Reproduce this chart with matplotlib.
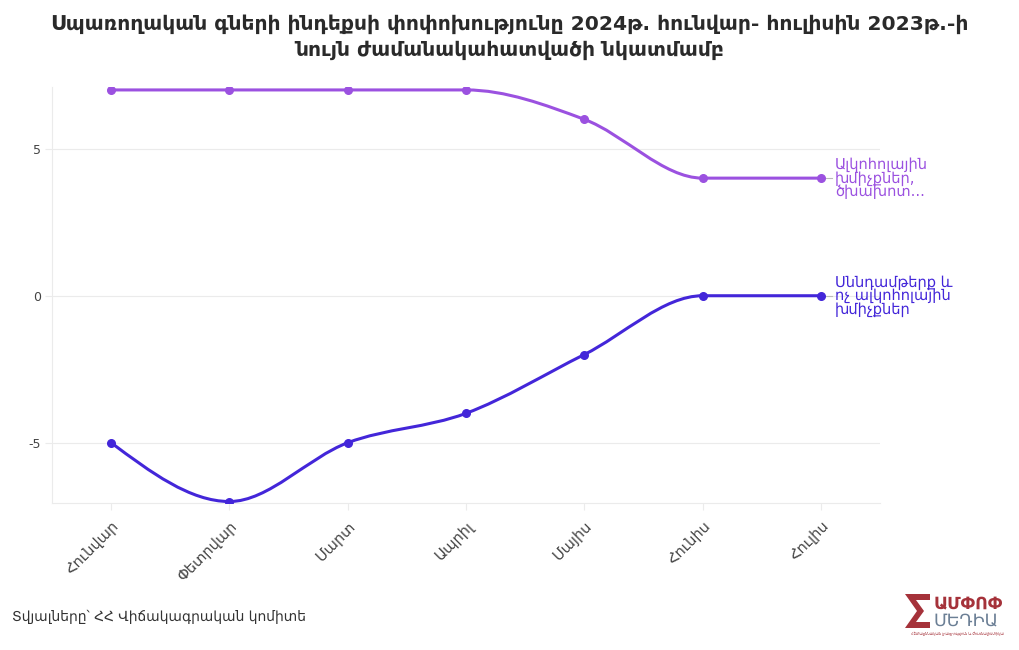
import matplotlib
matplotlib.use("Agg")
import matplotlib.pyplot as plt
from matplotlib.path import Path
from matplotlib.patches import PathPatch, Polygon
import numpy as np

plt.rcParams['font.family'] = ['DejaVu Sans']

# Տվյալներ
amisner = ['Հունվար', 'Փետրվար', 'Մարտ', 'Ապրիլ', 'Մայիս', 'Հունիս', 'Հուլիս']
alkohol = [7, 7, 7, 7, 6, 4, 4]
sennd = [-5, -7, -5, -4, -2, 0, 0]
anunner = ['Ալկոհոլային\nխմիչքներ,\nծխախոտ...', 'Սննդամթերք և\nոչ ալկոհոլային\nխմիչքներ']
guyner = ['#9b51e0', '#4326d9']

title = ('Սպառողական գների ինդեքսի փոփոխությունը 2024թ. հունվար- հուլիսին 2023թ.-ի\n'
         'նույն ժամանակահատվածի նկատմամբ')
aghbyur = 'Տվյալները՝ ՀՀ Վիճակագրական կոմիտե'

fig = plt.figure(figsize=(10.2, 6.5), dpi=100)
ax = fig.add_axes([52 / 1020, 147 / 650, 828 / 1020, 416 / 650])
ax.set_xlim(-0.5, 6.5)
ax.set_ylim(-7.05, 7.1)


def monotone_path(xs, ys):
    # d3 curveMonotoneX-ի նման կոր
    xs = np.asarray(xs, float)
    ys = np.asarray(ys, float)
    n = len(xs)
    t = np.zeros(n)
    for i in range(1, n - 1):
        h0 = xs[i] - xs[i - 1]
        h1 = xs[i + 1] - xs[i]
        s0 = (ys[i] - ys[i - 1]) / h0
        s1 = (ys[i + 1] - ys[i]) / h1
        p = (s0 * h1 + s1 * h0) / (h0 + h1)
        t[i] = (np.sign(s0) + np.sign(s1)) * min(abs(s0), abs(s1), 0.5 * abs(p))
    h = xs[1] - xs[0]
    t[0] = (3 * (ys[1] - ys[0]) / h - t[1]) / 2
    h = xs[-1] - xs[-2]
    t[-1] = (3 * (ys[-1] - ys[-2]) / h - t[-2]) / 2
    verts = [(xs[0], ys[0])]
    codes = [Path.MOVETO]
    for i in range(n - 1):
        dx = (xs[i + 1] - xs[i]) / 3
        verts += [(xs[i] + dx, ys[i] + dx * t[i]),
                  (xs[i + 1] - dx, ys[i + 1] - dx * t[i + 1]),
                  (xs[i + 1], ys[i + 1])]
        codes += [Path.CURVE4] * 3
    return Path(verts, codes)


x = np.arange(len(amisner))
for vals, col, name in zip([alkohol, sennd], guyner, anunner):
    ax.add_patch(PathPatch(monotone_path(x, vals), fill=False, edgecolor=col, lw=2.2,
                           capstyle='round', zorder=3))
    ax.scatter(x, vals, s=30, color=col, zorder=4)
    ax.plot([x[-1] + 0.03, x[-1] + 0.09], [vals[-1], vals[-1]], color='#bbbbbb', lw=0.8,
            clip_on=False)
    ax.text(x[-1] + 0.12, vals[-1], name, color=col, fontsize=10.5, va='center', ha='left',
            linespacing=0.85, clip_on=False)

ax.set_yticks([-5, 0, 5])
ax.set_yticklabels(['-5', '0', '5'])
ax.set_xticks(x)
ax.set_xticklabels(amisner, rotation=45, ha='right', rotation_mode='anchor')
ax.grid(axis='y', color='#ebebeb', lw=0.8)
ax.set_axisbelow(True)
for sp in ['top', 'right']:
    ax.spines[sp].set_visible(False)
for sp in ['left', 'bottom']:
    ax.spines[sp].set_color('#ebebeb')
    ax.spines[sp].set_linewidth(0.8)
ax.tick_params(axis='y', length=5, color='#ebebeb', labelcolor='#444444', labelsize=9, pad=3)
ax.tick_params(axis='x', length=5, color='#ebebeb', labelcolor='#444444', labelsize=10.5, pad=6)

fig.text(0.5, 1 - 37 / 650, title, ha='center', va='center', fontsize=14.6,
         fontweight='bold', color='#2a2a2a', linespacing=1.4)
fig.text(12 / 1020, 1 - 617 / 650, aghbyur, ha='left', va='center', fontsize=10, color='#333333')

# լոգո (պիքսելային կոորդինատներից figure-ի կոորդինատներ)
sig_px = [[905, 594], [930, 594], [930, 600], [916, 600], [924, 611], [916, 622],
          [930, 622], [930, 628], [905, 628], [917, 611]]
sig = Polygon([[px / 1020, 1 - py / 650] for px, py in sig_px], closed=True,
              transform=fig.transFigure, facecolor='#a5323a')
fig.patches.append(sig)
fig.text(934 / 1020, 1 - 603 / 650, 'ԱՄՓՈՓ', ha='left', va='center', fontsize=12.5,
         fontweight='bold', color='#a5323a')
fig.text(934 / 1020, 1 - 621 / 650, 'ՄԵԴԻԱ', ha='left', va='center', fontsize=12.5,
         color='#6b7f95')
fig.text(957 / 1020, 1 - 634 / 650, 'Հետաքննական լրագրություն և ժուռնալիստիկա', ha='center',
         va='center', fontsize=2.6, color='#a5323a')

fig.savefig('out.png', dpi=100)
